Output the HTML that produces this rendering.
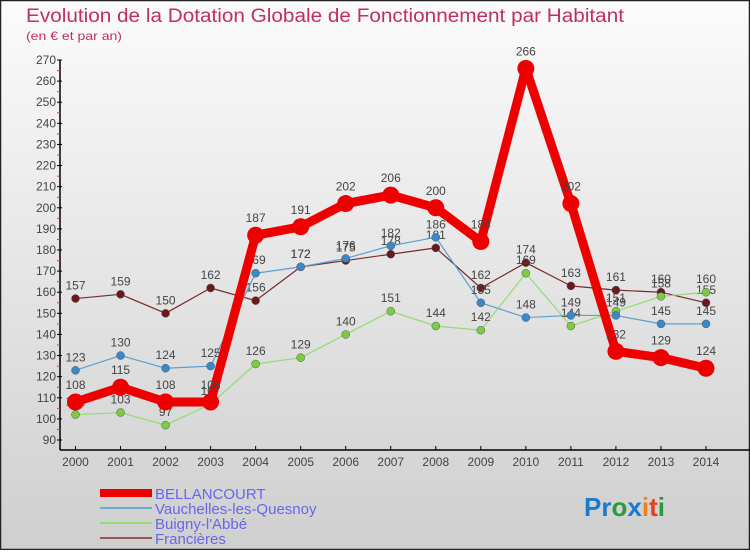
<!DOCTYPE html>
<html><head><meta charset="utf-8"><style>
html,body{margin:0;padding:0}
body{width:750px;height:550px;overflow:hidden;font-family:"Liberation Sans",sans-serif}
</style></head><body>
<svg id="chart" width="750" height="550" xmlns="http://www.w3.org/2000/svg">
<defs><linearGradient id="bg" x1="0" y1="0" x2="0" y2="1"><stop offset="0" stop-color="#fbfbfb"/><stop offset="1" stop-color="#cfcfcf"/></linearGradient></defs>
<rect x="0.5" y="0.5" width="749" height="549" fill="url(#bg)" stroke="#222" stroke-width="1.5"/>
<text x="26" y="22" font-size="19" fill="#c0305a" textLength="598" lengthAdjust="spacingAndGlyphs">Evolution de la Dotation Globale de Fonctionnement par Habitant</text>
<text x="26" y="40" font-size="12" fill="#c0305a" textLength="96" lengthAdjust="spacingAndGlyphs">(en € et par an)</text>
<g id="axes"></g><g id="series"></g>
<g font-size="15" fill="#6666ee">
<rect x="100" y="489" width="52" height="8" fill="#e00"/>
<text x="155" y="499">BELLANCOURT</text>
<line x1="100" y1="508" x2="152" y2="508" stroke="#6fa8d0" stroke-width="2"/>
<text x="155" y="514">Vauchelles-les-Quesnoy</text>
<line x1="100" y1="523" x2="152" y2="523" stroke="#90dd70" stroke-width="2"/>
<text x="155" y="529">Buigny-l'Abbé</text>
<line x1="100" y1="538" x2="152" y2="538" stroke="#995555" stroke-width="2"/>
<text x="155" y="544">Francières</text>
</g>
<text x="584" y="516" font-size="26" font-weight="bold"><tspan fill="#1a7ad0">Pr</tspan><tspan fill="#2a9a3a">o</tspan><tspan fill="#1a7ad0">x</tspan><tspan fill="#f08010">i</tspan><tspan fill="#e04020">t</tspan><tspan fill="#2a9a3a">i</tspan></text>
</svg>
<script>
const years=[2000,2001,2002,2003,2004,2005,2006,2007,2008,2009,2010,2011,2012,2013,2014];
const bellancourt=[108,115,108,108,187,191,202,206,200,184,266,202,132,129,124];
const vauchelles=[123,130,124,125,169,172,176,182,186,155,148,149,149,145,145];
const buigny=[102,103,97,107,126,129,140,151,144,142,169,144,151,158,160];
const francieres=[157,159,150,162,156,172,175,178,181,162,174,163,161,160,155];
const yTicks=[90,100,110,120,130,140,150,160,170,180,190,200,210,220,230,240,250,260,270];
const NS='http://www.w3.org/2000/svg';
const xS=i=>75.5+i*(706-75.5)/(years.length-1);
const yS=v=>440-(v-90)*(380/180);
function mk(tag,at,parent){const e=document.createElementNS(NS,tag);for(const k in at)e.setAttribute(k,at[k]);parent.appendChild(e);return e;}
const ax=document.getElementById('axes');
let l=mk('line',{x1:60,y1:yS(270),x2:60,y2:450,stroke:'#000','stroke-width':1.5},ax);


l=mk('line',{x1:60,y1:450,x2:750,y2:450,stroke:'#000','stroke-width':1.5},ax);


yTicks.forEach(v=>{const y=yS(v);
 mk('line',{x1:57,y1:y,x2:62,y2:y,stroke:'#000'},ax);
 if(v<270)mk('line',{x1:57,y1:y-10.5,x2:60,y2:y-10.5,stroke:'#e33'},ax);
 const t=mk('text',{x:56,y:y+4,'font-size':12,fill:'#444','text-anchor':'end'},ax);
 
 
 t.textContent=v;});
years.forEach((yr,i)=>{const x=xS(i);
 mk('line',{x1:x,y1:446,x2:x,y2:450,stroke:'#000'},ax);
 const t=mk('text',{x:x,y:466,'font-size':12,fill:'#444','text-anchor':'middle'},ax);
 
 
 t.textContent=yr;});
const sg=document.getElementById('series');
function series(name,vals,color,w,r,dot){
 const g=mk('g',{},sg);
 
 
 const p=mk('polyline',{points:vals.map((v,i)=>xS(i)+','+yS(v)).join(' '),fill:'none',stroke:color,'stroke-width':w,'stroke-linejoin':'round'},g);
 
 
 vals.forEach((v,i)=>{
  const c=mk('circle',{cx:xS(i),cy:yS(v),r:r,fill:dot,stroke:'#555','stroke-width':w>3?0:0.5},g);
  
  
  const t=mk('text',{x:xS(i),y:yS(v)-(w>3?13:9),'font-size':12,fill:'#444','text-anchor':'middle'},g);
  
  
  t.textContent=v;});
}
series('francieres',francieres,'#7a2a2a',1.2,4,'#6a1a1a');
series('buigny',buigny,'#90dd70',1.2,4,'#7acc40');
series('vauchelles',vauchelles,'#5a9fd0',1.2,4,'#3a88c8');
series('bellancourt',bellancourt,'#ee0000',9,8.5,'#ee0000');
</script>
</body></html>
